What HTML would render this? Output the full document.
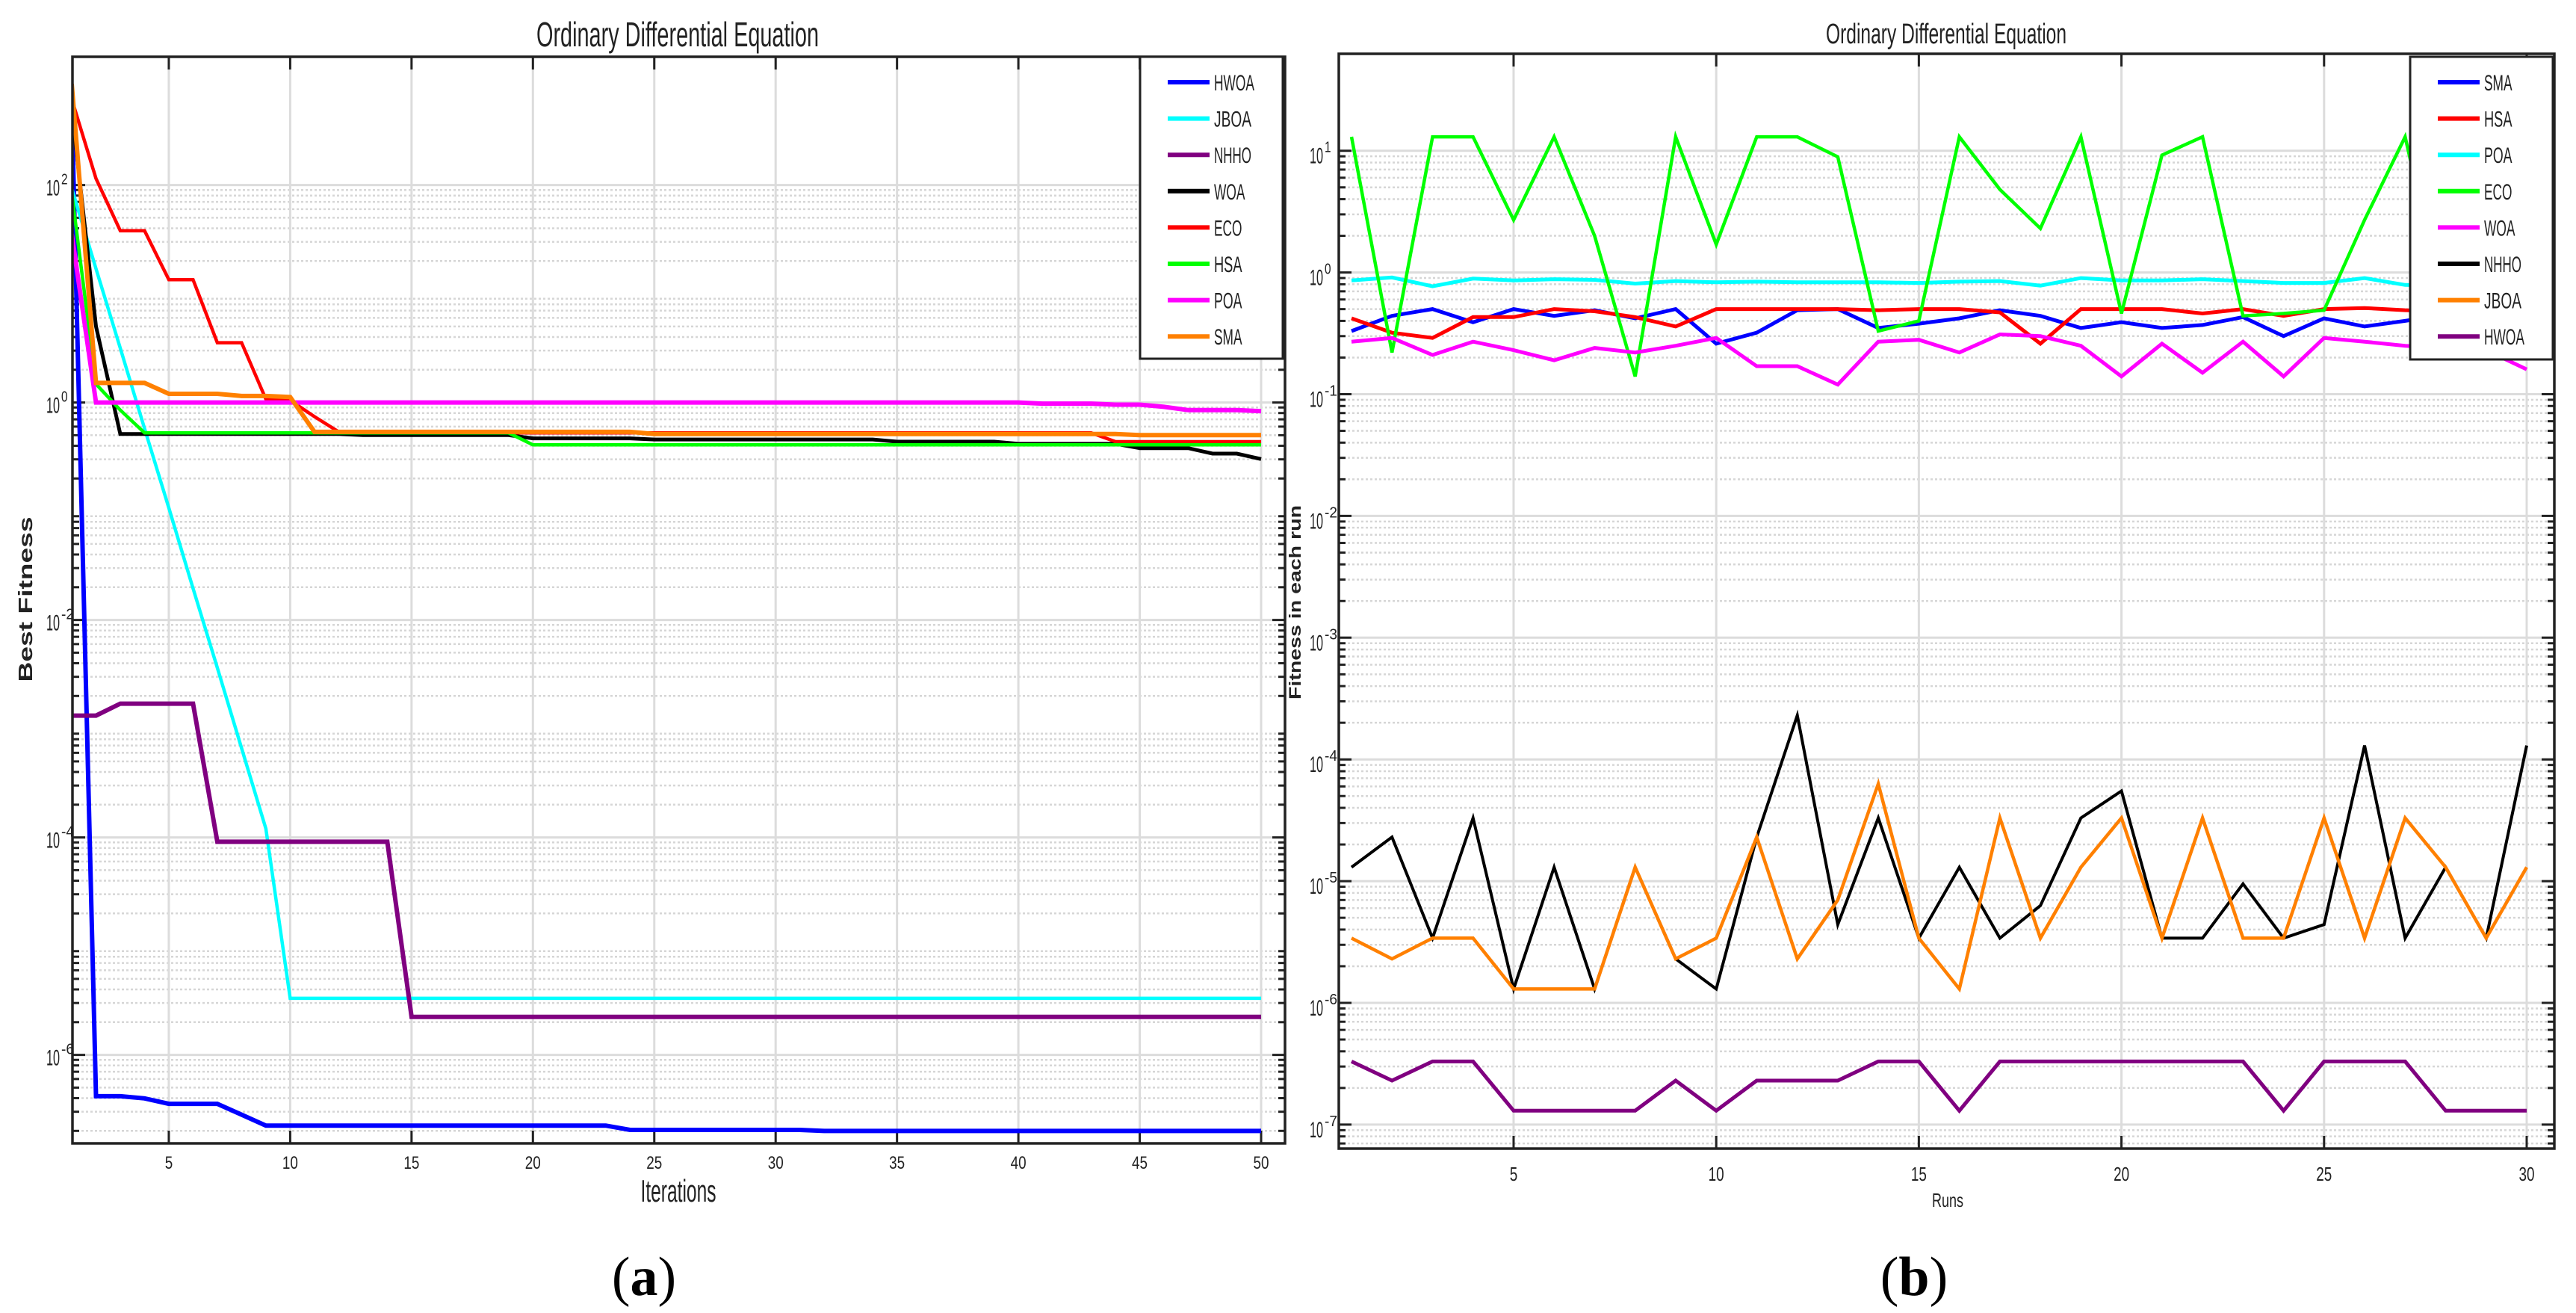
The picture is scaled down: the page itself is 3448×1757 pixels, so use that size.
<!DOCTYPE html>
<html><head><meta charset="utf-8"><style>
html,body{margin:0;padding:0;background:#fff;}
svg{display:block;}
text{font-family:"Liberation Sans Narrow","Liberation Sans",sans-serif;fill:#222;}
</style></head><body>
<svg id="fig" width="3448" height="1757" viewBox="0 0 3448 1757" xmlns="http://www.w3.org/2000/svg"></svg>
<script>
// ---------- Data: panel (a) convergence, values are log10(best fitness) ----------
const iterA = Array.from({length:50},(_,i)=>i+1);
const namesA = ["HWOA","JBOA","NHHO","WOA","ECO","HSA","POA","SMA"];
const colorsA = ["#0000ff","#00ffff","#800080","#000000","#ff0000","#00ff00","#ff00ff","#ff8000"];
function fill(pairs){
  const out=[];let k=0;
  for(let i=1;i<=50;i++){ while(k+1<pairs.length && pairs[k+1][0]<=i) k++; out.push(pairs[k][1]); }
  return out;
}
const hwoaA = fill([[1,2.74],[2,-6.38],[4,-6.40],[5,-6.45],[8,-6.55],[9,-6.65],[24,-6.69],[32,-6.70]]);
const jboaA = fill([[1,1.97],[2,1.23],[3,0.50],[4,-0.24],[5,-0.97],[6,-1.71],[7,-2.44],[8,-3.18],[9,-3.92],[10,-5.48]]);
const nhhoA = fill([[1,-2.88],[3,-2.77],[7,-4.04],[15,-5.65]]);
const woaA  = fill([[1,2.70],[2,0.70],[3,-0.29],[13,-0.30],[20,-0.33],[25,-0.34],[35,-0.36],[40,-0.38],[45,-0.42],[48,-0.47],[50,-0.52]]);
const ecoA  = fill([[1,2.79],[2,2.06],[3,1.58],[5,1.13],[7,0.55],[9,0.03],[10,0.02],[11,-0.13],[12,-0.27],[13,-0.28],[44,-0.36]]);
const hsaA  = fill([[1,1.93],[2,0.17],[3,-0.07],[4,-0.28],[20,-0.39]]);
const poaA  = fill([[1,1.55],[2,0.0],[41,-0.01],[44,-0.02],[46,-0.04],[47,-0.07],[50,-0.08]]);
const smaA  = fill([[1,2.93],[2,0.18],[5,0.08],[8,0.06],[10,0.05],[11,-0.27],[25,-0.29],[40,-0.29],[45,-0.30]]);
const seriesA = [hwoaA,jboaA,nhhoA,woaA,ecoA,hsaA,poaA,smaA];
const xTicksA = [5,10,15,20,25,30,35,40,45,50];
const yTicksA = [2,0,-2,-4,-6];

// ---------- Data: panel (b) fitness in each run ----------
const runsB = Array.from({length:30},(_,i)=>i+1);
const namesB = ["SMA","HSA","POA","ECO","WOA","NHHO","JBOA","HWOA"];
const colorsB = ["#0000ff","#ff0000","#00ffff","#00ff00","#ff00ff","#000000","#ff8000","#800080"];
const smaB  = [0.33,0.44,0.50,0.39,0.50,0.44,0.49,0.42,0.50,0.26,0.32,0.49,0.50,0.35,0.38,0.42,0.49,0.44,0.35,0.39,0.35,0.37,0.43,0.30,0.42,0.36,0.40,0.45,0.47,0.45];
const hsaB  = [0.42,0.32,0.29,0.43,0.43,0.50,0.48,0.43,0.36,0.50,0.50,0.50,0.50,0.49,0.50,0.50,0.47,0.26,0.50,0.50,0.50,0.46,0.50,0.44,0.50,0.51,0.49,0.48,0.48,0.48];
const poaB  = [0.86,0.91,0.77,0.89,0.86,0.88,0.87,0.81,0.85,0.83,0.84,0.83,0.83,0.83,0.82,0.84,0.85,0.78,0.90,0.86,0.86,0.88,0.85,0.82,0.82,0.90,0.79,0.78,0.77,0.76];
const ecoB  = [13,0.22,13,13,2.7,13,2.0,0.14,13,1.7,13,13,8.9,0.33,0.40,13,4.8,2.3,13,0.46,9.2,13,0.44,0.46,0.49,2.7,13,0.45,0.43,0.45];
const woaB  = [0.27,0.29,0.21,0.27,0.23,0.19,0.24,0.22,0.25,0.29,0.17,0.17,0.12,0.27,0.28,0.22,0.31,0.30,0.25,0.14,0.26,0.15,0.27,0.14,0.29,0.27,0.25,0.24,0.23,0.16];
const nhhoB = [1.3e-5,2.3e-5,3.4e-6,3.3e-5,1.3e-6,1.3e-5,1.3e-6,1.3e-5,2.3e-6,1.3e-6,2.3e-5,2.3e-4,4.4e-6,3.3e-5,3.4e-6,1.3e-5,3.4e-6,6.3e-6,3.3e-5,5.5e-5,3.4e-6,3.4e-6,9.5e-6,3.4e-6,4.4e-6,1.3e-4,3.4e-6,1.3e-5,3.4e-6,1.3e-4];
const jboaB = [3.4e-6,2.3e-6,3.4e-6,3.4e-6,1.3e-6,1.3e-6,1.3e-6,1.3e-5,2.3e-6,3.4e-6,2.3e-5,2.3e-6,7e-6,6.3e-5,3.4e-6,1.3e-6,3.3e-5,3.4e-6,1.3e-5,3.3e-5,3.4e-6,3.3e-5,3.4e-6,3.4e-6,3.3e-5,3.4e-6,3.3e-5,1.3e-5,3.4e-6,1.3e-5];
const hwoaB = [3.3e-7,2.3e-7,3.3e-7,3.3e-7,1.3e-7,1.3e-7,1.3e-7,1.3e-7,2.3e-7,1.3e-7,2.3e-7,2.3e-7,2.3e-7,3.3e-7,3.3e-7,1.3e-7,3.3e-7,3.3e-7,3.3e-7,3.3e-7,3.3e-7,3.3e-7,3.3e-7,1.3e-7,3.3e-7,3.3e-7,3.3e-7,1.3e-7,1.3e-7,1.3e-7];
const seriesB = [smaB,hsaB,poaB,ecoB,woaB,nhhoB,jboaB,hwoaB];
const xTicksB = [5,10,15,20,25,30];
const yTicksB = [1,0,-1,-2,-3,-4,-5,-6,-7];

// ---------- rendering ----------
const NS="http://www.w3.org/2000/svg";
const svg=document.getElementById('fig');
function el(tag,attrs,parent){const e=document.createElementNS(NS,tag);for(const k in attrs)e.setAttribute(k,attrs[k]);(parent||svg).appendChild(e);return e;}
function txt(s,attrs,parent){const e=el('text',attrs,parent);e.textContent=s;return e;}

function panel(cfg){
  const g=el('g',{});
  
  
  const X=v=>cfg.x0+(v-cfg.xmin)*(cfg.x1-cfg.x0)/(cfg.xmax-cfg.xmin);
  const Y=l=>cfg.yTopPx+(cfg.ltop-l)*cfg.dec;
  const L=cfg.left,R=cfg.right,T=cfg.top,B=cfg.bottom;
  const gm=el('g',{},g);
  
  
  for(let d=Math.floor(cfg.lbot);d<=Math.ceil(cfg.ltop);d++){
    for(let m=2;m<=9;m++){
      const l=d+Math.log10(m); if(l<=cfg.lbot||l>=cfg.ltop) continue;
      const y=Y(l);
      el('line',{x1:L,x2:R,y1:y,y2:y,stroke:'#d6d6d6','stroke-width':2.5,'stroke-dasharray':'3 3'},gm);
      el('line',{x1:L,x2:L+9,y1:y,y2:y,stroke:'#222','stroke-width':3},gm);
      el('line',{x1:R-9,x2:R,y1:y,y2:y,stroke:'#222','stroke-width':3},gm);
    }
  }
  for(const t of cfg.yTicks){
    const y=Y(t);
    const gl=el('line',{x1:L,x2:R,y1:y,y2:y,stroke:'#dcdcdc','stroke-width':3},g);
    
    
    el('line',{x1:L,x2:L+17,y1:y,y2:y,stroke:'#222','stroke-width':3},g);
    el('line',{x1:R-17,x2:R,y1:y,y2:y,stroke:'#222','stroke-width':3},g);
    const lab=txt('10',{x:cfg.ylabX,y:y+cfg.ybase,'font-size':cfg.yfs,'text-anchor':'end',textLength:cfg.ylabW,lengthAdjust:'spacingAndGlyphs'},g);
    
    
    const sup=String(t);
    txt(sup,{x:cfg.ylabX+2,y:y+cfg.ybase-15,'font-size':cfg.yfs*0.68,textLength:sup.length*8.5,lengthAdjust:'spacingAndGlyphs'},g);
  }
  for(const t of cfg.xTicks){
    const x=X(t);
    const gl=el('line',{x1:x,x2:x,y1:T,y2:B,stroke:'#dcdcdc','stroke-width':3},g);
    
    
    el('line',{x1:x,x2:x,y1:T,y2:T+17,stroke:'#222','stroke-width':3},g);
    el('line',{x1:x,x2:x,y1:B-17,y2:B,stroke:'#222','stroke-width':3},g);
    const s=String(t);
    const lab=txt(s,{x:x,y:cfg.xlabY,'font-size':cfg.xfs,'text-anchor':'middle',textLength:s.length*10.5,lengthAdjust:'spacingAndGlyphs'},g);
    
    
  }
  const clipId='clip-'+cfg.id;
  const cp=el('clipPath',{id:clipId},g);el('rect',{x:L,y:T,width:R-L,height:B-T},cp);
  const gs=el('g',{'clip-path':'url(#'+clipId+')'},g);
  cfg.series.forEach((vals,si)=>{
    const pts=vals.map((v,i)=>X(cfg.xs[i]).toFixed(1)+','+Y(cfg.logVals?v:Math.log10(v)).toFixed(1)).join(' ');
    const pl=el('polyline',{points:pts,fill:'none',stroke:cfg.colors[si],'stroke-width':cfg.lw[si],'stroke-linejoin':'miter'},gs);
    
    
  });
  const box=el('rect',{x:L,y:T,width:R-L,height:B-T,fill:'none',stroke:'#222','stroke-width':3.5},g);
  
  
  const lg=el('g',{},g);
  
  
  el('rect',{x:cfg.lgx,y:cfg.lgy,width:cfg.lgw,height:cfg.lgh,fill:'#fff',stroke:'#222','stroke-width':3},lg);
  cfg.names.forEach((n,i)=>{
    const y=cfg.lgy+34+i*48.6;
    const e=el('g',{},lg);
    
    
    el('line',{x1:cfg.lgx+37,x2:cfg.lgx+93,y1:y,y2:y,stroke:cfg.colors[i],'stroke-width':6},e);
    txt(n,{x:cfg.lgx+99,y:y+11,'font-size':30,textLength:n.length*12.5+(n.includes('W')?4:0),lengthAdjust:'spacingAndGlyphs'},e);
  });
  const ti=txt('Ordinary Differential Equation',{x:cfg.titleX,y:cfg.titleY,'font-size':cfg.titleFs,'text-anchor':'middle',textLength:cfg.titleW,lengthAdjust:'spacingAndGlyphs'},g);
  
  
  const xl=txt(cfg.xlabel,{x:cfg.xlX,y:cfg.xlY,'font-size':cfg.xlFs,'text-anchor':'middle',textLength:cfg.xlW,lengthAdjust:'spacingAndGlyphs'},g);
  
  
  const yl=txt(cfg.ylabel,{x:0,y:0,'font-size':cfg.ylFs,'font-weight':'bold',style:"font-family:'Liberation Sans',sans-serif",'text-anchor':'middle',textLength:cfg.ylW,lengthAdjust:'spacingAndGlyphs',transform:'translate('+cfg.ylX+','+cfg.ylCY+') rotate(-90)'},g);
  
  
  const cap=el('text',{x:cfg.capX,y:1733,'font-size':74,'text-anchor':'middle',style:"font-family:'Liberation Serif',serif;fill:#000"},g);
  
  
  const a=document.createElementNS(NS,'tspan');a.textContent='(';cap.appendChild(a);
  const b=document.createElementNS(NS,'tspan');b.setAttribute('font-weight','bold');b.textContent=cfg.capLetter;cap.appendChild(b);
  const c=document.createElementNS(NS,'tspan');c.textContent=')';cap.appendChild(c);
}

panel({id:'panel-a',left:97,right:1720,top:76,bottom:1530,
  x0:96,x1:1688,xmin:1,xmax:50,xs:iterA,yTopPx:247.6,ltop:2,dec:145.5,lbot:-6.81,
  yTicks:yTicksA,xTicks:xTicksA,series:seriesA,colors:colorsA,names:namesA,logVals:true,
  lw:[6,4.5,6,5,4.5,4.5,6,6],
  ylabX:80,ybase:14,yfs:30,ylabW:18,xlabY:1564,xfs:24,
  lgx:1526,lgy:76,lgw:191,lgh:404,
  titleX:907,titleY:62,titleFs:46,titleW:378,
  xlabel:'Iterations',xlX:908,xlY:1608,xlFs:42,xlW:101,
  ylabel:'Best Fitness',ylX:43,ylCY:802,ylFs:26,ylW:221,
  capX:862,capLetter:'a'});

panel({id:'panel-b',left:1792,right:3419,top:72,bottom:1537,
  x0:1809,x1:3382,xmin:1,xmax:30,xs:runsB,yTopPx:201.7,ltop:1,dec:162.9,lbot:-7.198,
  yTicks:yTicksB,xTicks:xTicksB,series:seriesB,colors:colorsB,names:namesB,logVals:false,
  lw:[5,5,5,4.5,5,4,4.5,5],
  ylabX:1771,ybase:17,yfs:30,ylabW:18,xlabY:1580,xfs:26,
  lgx:3226,lgy:76,lgw:191,lgh:405,
  titleX:2605,titleY:58,titleFs:38,titleW:322,
  xlabel:'Runs',xlX:2607,xlY:1615,xlFs:26,xlW:42,
  ylabel:'Fitness in each run',ylX:1741,ylCY:806,ylFs:22,ylW:260,
  capX:2562,capLetter:'b'});
</script>
</body></html>
